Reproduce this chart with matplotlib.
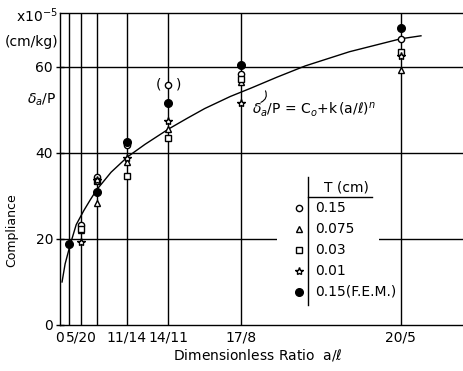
import numpy as np
import matplotlib
matplotlib.use('Agg')
import matplotlib.pyplot as plt
from matplotlib.patches import Rectangle

# x positions (a/l) of the measured configurations
ratio = [0.11, 0.25, 0.43, 0.786, 1.273, 2.125, 4.0]
tick_pos = [0, 0.11, 0.25, 0.43, 0.786, 1.273, 2.125, 4.0]
tick_lab = ['0', '', '5/20', '', '11/14', '14/11', '17/8', '20/5']

# compliance (x10^-5 cm/kg) per thickness T
t_015 = [np.nan, 23.3, 34.3, 41.8, 55.8, 58.3, 66.5]
t_0075 = [np.nan, 22.0, 28.4, 37.9, 45.6, 56.5, 59.3]
t_003 = [np.nan, 22.3, 33.4, 34.7, 43.5, 57.2, 63.5]
t_001 = [np.nan, 19.3, 33.6, 38.8, 47.4, 51.5, 62.6]
t_fem = [18.8, np.nan, 30.9, 42.5, 51.6, 60.5, 69.0]

# fitted curve
curve_x = [0.024, 0.06, 0.119, 0.19, 0.28, 0.356, 0.43, 0.6, 0.795, 1.0, 1.28,
           1.5, 1.7, 2.0, 2.25, 2.55, 2.88, 3.4, 4.0, 4.24]
curve_y = [10.0, 14.2, 18.6, 23.3, 26.6, 29.1, 31.4, 35.5, 39.1, 42.0, 45.6,
           48.1, 50.3, 53.1, 55.1, 57.6, 60.2, 63.5, 66.5, 67.2]

legend_lab = ['0.15', '0.075', '0.03', '0.01', '0.15(F.E.M.)']

plt.rcParams['font.family'] = 'DejaVu Sans'
plt.rcParams['mathtext.fontset'] = 'dejavusans'

fig = plt.figure(figsize=(4.64, 3.71), dpi=100)
ax = fig.add_axes([60 / 464, 1 - 325 / 371, 1 - 60 / 464 + 0.01, (325 - 13) / 371])
ax.set_xlim(0, 4.8)
ax.set_ylim(0, 72.5)

# grid lines
for x in ratio:
    ax.axvline(x, color='black', lw=1.0, zorder=1)
for y in [20, 40, 60]:
    ax.axhline(y, color='black', lw=1.0, zorder=1)

# legend area cleared
ax.add_patch(Rectangle((2.55, 4.6), 1.2, 31.5, facecolor='white',
                       edgecolor='none', zorder=2))

ax.plot(curve_x, curve_y, color='black', lw=1.0, zorder=3)

series = [t_015, t_0075, t_003, t_001, t_fem]
styles = [dict(marker='o', ms=4.5, mfc='white'),
          dict(marker='^', ms=4.5, mfc='white'),
          dict(marker='s', ms=4.0, mfc='white'),
          dict(marker='*', ms=6, mfc='white'),
          dict(marker='o', ms=5.5, mfc='black')]
for vals, st in zip(series, styles):
    ax.plot(ratio, vals, ls='none', mec='black', mew=1.0, zorder=4, **st)

# parentheses around the doubtful point
ax.text(1.273 - 0.12, t_015[4], '(', ha='center', va='center', fontsize=10, zorder=5)
ax.text(1.273 + 0.12, t_015[4], ')', ha='center', va='center', fontsize=10, zorder=5)

# formula label
ax.text(2.26, 50.0, r'$\delta_a$/P = C$_o$+k$\,$(a/$\ell$)$^n$', fontsize=10,
        ha='left', va='center', zorder=5)
ax.annotate('', xy=(2.4, 55.0), xytext=(2.33, 51.5),
            arrowprops=dict(arrowstyle='-', lw=0.8, connectionstyle='arc3,rad=0.6'))

# legend table
ax.plot([2.91, 2.91], [4.6, 34.4], color='black', lw=1.0, zorder=3)
ax.plot([2.91, 3.66], [29.8, 29.8], color='black', lw=1.0, zorder=3)
ax.text(3.1, 31.9, 'T (cm)', fontsize=10, ha='left', va='center', zorder=5)
row_y = [27.2, 22.3, 17.4, 12.6, 7.7]
for ry, lab, st in zip(row_y, legend_lab, styles):
    ax.plot([2.81], [ry], ls='none', mec='black', mew=1.0, zorder=4, **st)
    ax.text(3.0, ry, lab, fontsize=10, ha='left', va='center', zorder=5)

ax.set_xticks(tick_pos)
ax.set_xticklabels(tick_lab, fontsize=10)
ax.set_yticks([0, 20, 40, 60])
ax.set_yticklabels(['0', '20', '40', '60'], fontsize=10)
ax.tick_params(axis='y', direction='inout', length=6, width=1.0, pad=2)
ax.tick_params(axis='x', direction='in', length=0, pad=4)
for s in ['left', 'bottom', 'top']:
    ax.spines[s].set_linewidth(1.0)
ax.spines['right'].set_visible(False)

fig.text(58 / 464, 1 - 16 / 371, r'x10$^{-5}$', ha='right', va='center', fontsize=10)
fig.text(58 / 464, 1 - 42 / 371, '(cm/kg)', ha='right', va='center', fontsize=10)
fig.text(56 / 464, 1 - 100 / 371, r'$\delta_a$/P', ha='right', va='center', fontsize=10)
fig.text(12 / 464, 1 - 230 / 371, 'Compliance', rotation=90, ha='center',
         va='center', fontsize=9)
fig.text(258 / 464, 1 - 355 / 371, r'Dimensionless Ratio  a/$\ell$', ha='center',
         va='center', fontsize=10)

fig.savefig('out.png', dpi=100)
